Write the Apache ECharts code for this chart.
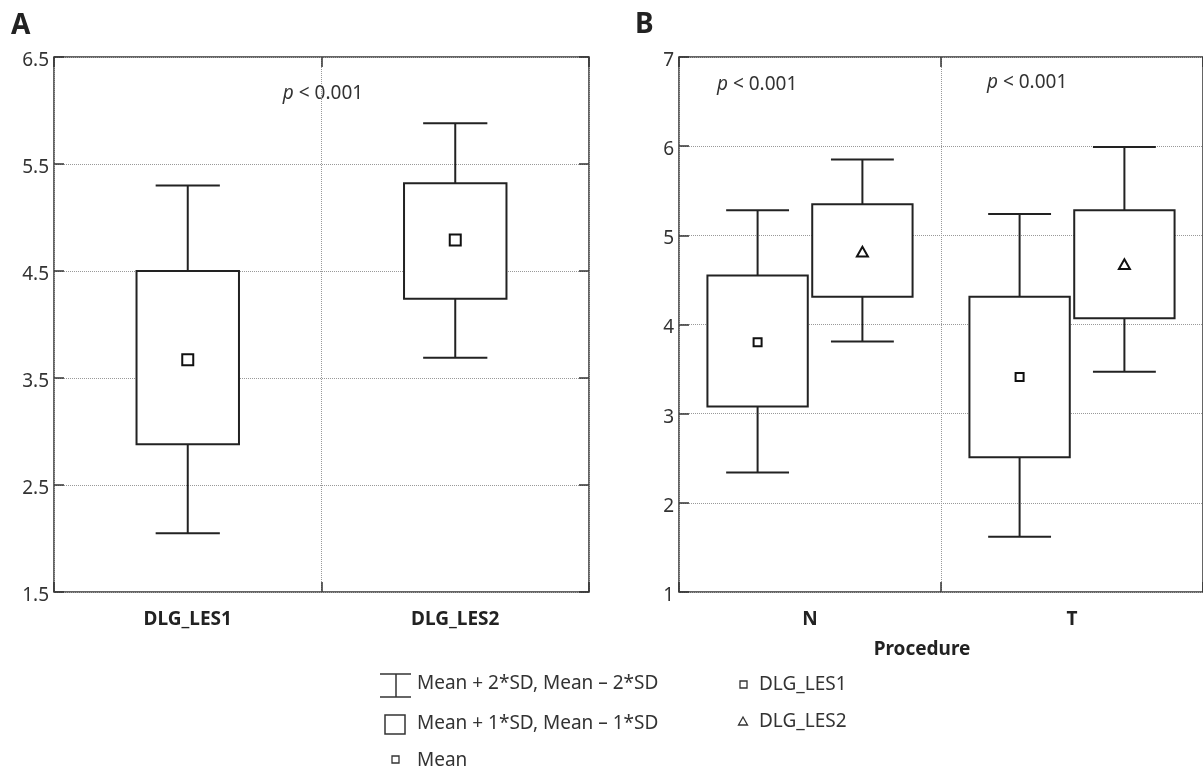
<!DOCTYPE html>
<html>
<head>
<meta charset="utf-8">
<script src="https://cdn.jsdelivr.net/npm/echarts@6/dist/echarts.min.js"></script>
<style>
html, body { margin: 0; padding: 0; background: #fff; }
#chart { width: 1203px; height: 769px; }
</style>
</head>
<body>
<div id="chart"></div>
<script>
// panel A - DLG_LES1 vs DLG_LES2
var catsA = ['DLG_LES1', 'DLG_LES2'];
var meanA = [3.67, 4.79];
var sd1LoA = [2.88, 4.24];
var sd1HiA = [4.50, 5.32];
var sd2LoA = [2.05, 3.69];
var sd2HiA = [5.30, 5.88];
var ticksA = [1.5, 2.5, 3.5, 4.5, 5.5, 6.5];

// panel B - split by procedure
var catsB = ['N', 'T'];
var les1MeanB = [3.80, 3.41];
var les1Sd1LoB = [3.08, 2.51];
var les1Sd1HiB = [4.55, 4.31];
var les1Sd2LoB = [2.34, 1.62];
var les1Sd2HiB = [5.28, 5.24];
var les2MeanB = [4.81, 4.67];
var les2Sd1LoB = [4.31, 4.07];
var les2Sd1HiB = [5.35, 5.28];
var les2Sd2LoB = [3.81, 3.47];
var les2Sd2HiB = [5.85, 5.99];
var ticksB = [1, 2, 3, 4, 5, 6, 7];

var FONT = 'Noto Sans';
var INK = '#222';
var FS = 19;

function rows(cats, lo2, lo1, m, hi1, hi2) {
    return cats.map(function (c, i) {
        return [i, lo2[i], lo1[i], m[i], hi1[i], hi2[i]];
    });
}

// whiskers = mean +- 2SD, box = mean +- 1SD, marker = mean
function boxRender(offset, marker, size) {
    return function (params, api) {
        var c = api.value(0);
        var band = api.size([1, 0])[0];
        var x = api.coord([c, api.value(3)])[0] + offset * band;
        var y = function (d) { return api.coord([c, api.value(d)])[1]; };
        var bw = band * 0.383, cw = band * 0.24;
        var ln = { stroke: INK, lineWidth: 2 };
        var kids = [
            { type: 'line', shape: { x1: x, y1: y(5), x2: x, y2: y(4) }, style: ln },
            { type: 'line', shape: { x1: x - cw / 2, y1: y(5), x2: x + cw / 2, y2: y(5) }, style: ln },
            { type: 'line', shape: { x1: x, y1: y(2), x2: x, y2: y(1) }, style: ln },
            { type: 'line', shape: { x1: x - cw / 2, y1: y(1), x2: x + cw / 2, y2: y(1) }, style: ln },
            { type: 'rect', shape: { x: x - bw / 2, y: y(4), width: bw, height: y(2) - y(4) },
              style: { fill: '#fff', stroke: INK, lineWidth: 2 } }
        ];
        var my = y(3), s = size / 2;
        if (marker === 'triangle') {
            kids.push({ type: 'polygon', shape: { points: [[x, my - s], [x + s, my + s * 0.75], [x - s, my + s * 0.75]] },
                style: { fill: '#fff', stroke: '#111', lineWidth: 2 } });
        } else {
            kids.push({ type: 'rect', shape: { x: x - s, y: my - s, width: size, height: size },
                style: { fill: '#fff', stroke: '#111', lineWidth: 2 } });
        }
        return { type: 'group', children: kids };
    };
}

var dotted = { show: true, lineStyle: { color: '#999', type: 'dotted', width: 1 } };

function catAxis(grid, cats, pos, labels) {
    return {
        type: 'category', gridIndex: grid, data: cats, position: pos,
        axisLine: { show: false },
        axisTick: { show: true, inside: true, length: 10, lineStyle: { color: '#333', width: 1.5 } },
        axisLabel: labels ? { show: true, fontFamily: FONT, fontSize: FS, fontWeight: 'bold', color: INK, margin: 18 } : { show: false },
        splitLine: labels ? dotted : { show: false }
    };
}

function valAxis(grid, ticks, pos, labels) {
    return {
        type: 'value', gridIndex: grid, position: pos,
        min: ticks[0], max: ticks[ticks.length - 1], interval: ticks[1] - ticks[0],
        axisLine: { show: false },
        axisTick: { show: true, inside: true, length: 10, lineStyle: { color: '#333', width: 1.5 } },
        axisLabel: labels ? {
            show: true, fontFamily: FONT, fontSize: FS, color: '#333', margin: 5,
            formatter: '{v|{value}}',
            rich: { v: { fontFamily: FONT, fontSize: FS, color: '#333', padding: [7, 0, 0, 0] } }
        } : { show: false },
        splitLine: labels ? dotted : { show: false }
    };
}

function txt(x, y, s, opt) {
    var st = Object.assign({ text: s, fontFamily: FONT, fontSize: FS, fill: '#333', verticalAlign: 'middle' }, opt || {});
    return { type: 'text', x: x, y: y, style: st };
}

function pText(x, y, align) {
    return txt(x, y, '{i|p} < 0.001', {
        align: align,
        rich: { i: { fontStyle: 'italic', fontFamily: FONT, fontSize: FS, fill: '#333' } }
    });
}

var lg = { stroke: '#333', lineWidth: 1.5, fill: 'none' };

var option = {
    animation: false,
    backgroundColor: '#fff',
    grid: [
        { left: 54, top: 57, width: 535, height: 535, show: true, borderColor: '#333', borderWidth: 1.5 },
        { left: 679, top: 57, width: 536, height: 535, show: true, borderColor: '#333', borderWidth: 1.5 }
    ],
    xAxis: [
        catAxis(0, catsA, 'bottom', true),
        catAxis(0, catsA, 'top', false),
        catAxis(1, catsB, 'bottom', true),
        catAxis(1, catsB, 'top', false)
    ],
    yAxis: [
        valAxis(0, ticksA, 'left', true),
        valAxis(0, ticksA, 'right', false),
        valAxis(1, ticksB, 'left', true)
    ],
    series: [
        {
            type: 'custom', name: 'DLG', xAxisIndex: 0, yAxisIndex: 0,
            encode: { x: 0, y: [1, 2, 3, 4, 5] },
            renderItem: boxRender(0, 'square', 11),
            data: rows(catsA, sd2LoA, sd1LoA, meanA, sd1HiA, sd2HiA)
        },
        {
            type: 'custom', name: 'DLG_LES1', xAxisIndex: 2, yAxisIndex: 2,
            encode: { x: 0, y: [1, 2, 3, 4, 5] },
            renderItem: boxRender(-0.2, 'square', 8),
            data: rows(catsB, les1Sd2LoB, les1Sd1LoB, les1MeanB, les1Sd1HiB, les1Sd2HiB)
        },
        {
            type: 'custom', name: 'DLG_LES2', xAxisIndex: 2, yAxisIndex: 2,
            encode: { x: 0, y: [1, 2, 3, 4, 5] },
            renderItem: boxRender(0.2, 'triangle', 11),
            data: rows(catsB, les2Sd2LoB, les2Sd1LoB, les2MeanB, les2Sd1HiB, les2Sd2HiB)
        }
    ],
    graphic: [
        txt(11, 26, 'A', { fontSize: 28, fontWeight: 'bold', fill: '#222' }),
        txt(635, 25, 'B', { fontSize: 28, fontWeight: 'bold', fill: '#222' }),
        pText(323, 94, 'center'),
        pText(717, 85, 'left'),
        pText(987, 83, 'left'),
        txt(922, 650, 'Procedure', { align: 'center', fontWeight: 'bold', fill: INK }),
        // legend: left column
        { type: 'polyline', shape: { points: [[380, 674], [411, 674]] }, style: lg },
        { type: 'polyline', shape: { points: [[396, 674], [396, 697]] }, style: lg },
        { type: 'polyline', shape: { points: [[380, 697], [411, 697]] }, style: lg },
        txt(417, 684, 'Mean + 2*SD, Mean \u2013 2*SD'),
        { type: 'rect', shape: { x: 385, y: 715, width: 20, height: 19 }, style: lg },
        txt(417, 724, 'Mean + 1*SD, Mean \u2013 1*SD'),
        { type: 'rect', shape: { x: 392, y: 756, width: 7, height: 7 }, style: { stroke: '#333', lineWidth: 1.3, fill: 'none' } },
        txt(417, 761, 'Mean'),
        // legend: right column
        { type: 'rect', shape: { x: 740, y: 681, width: 7, height: 7 }, style: { stroke: '#333', lineWidth: 1.3, fill: 'none' } },
        txt(759, 685, 'DLG_LES1'),
        { type: 'polygon', shape: { points: [[743, 717], [747.5, 725], [738.5, 725]] }, style: { stroke: '#333', lineWidth: 1.3, fill: 'none' } },
        txt(759, 722, 'DLG_LES2')
    ]
};

var myChart = echarts.init(document.getElementById('chart'));
myChart.setOption(option);
</script>
</body>
</html>
